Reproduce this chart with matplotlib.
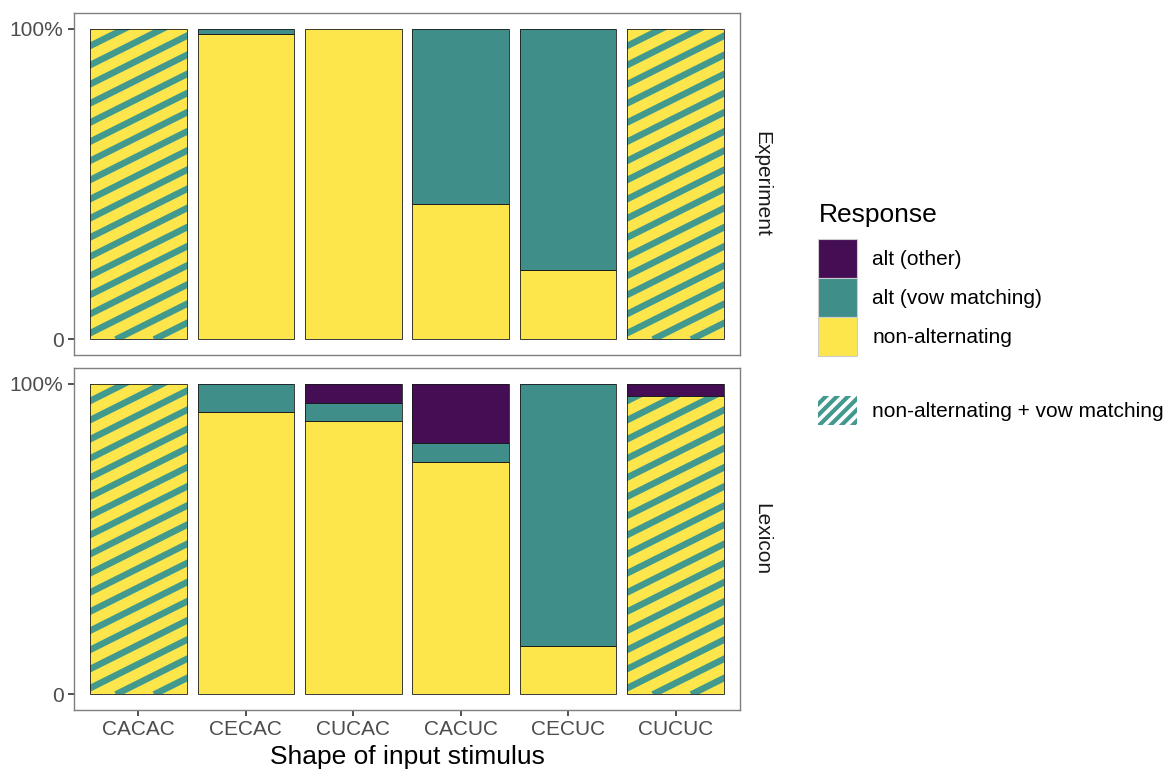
import numpy as np
import matplotlib
matplotlib.use("Agg")
import matplotlib.pyplot as plt
from matplotlib.patches import Patch
from matplotlib.collections import LineCollection
from matplotlib.transforms import IdentityTransform

plt.rcParams['font.family'] = ['Liberation Sans', 'DejaVu Sans']

stimuli = ["CACAC", "CECAC", "CUCAC", "CACUC", "CECUC", "CUCUC"]
hatched = ["CACAC", "CUCUC"]   # non-alternating + vow matching

# shares per facet, stacked bottom -> top
exp_nonalt = [1.0, 0.984, 1.0, 0.435, 0.223, 1.0]
exp_vow = [0.0, 0.016, 0.0, 0.565, 0.777, 0.0]
exp_other = [0.0, 0.0, 0.0, 0.0, 0.0, 0.0]

lex_nonalt = [1.0, 0.91, 0.88, 0.747, 0.155, 0.959]
lex_vow = [0.0, 0.09, 0.058, 0.062, 0.845, 0.0]
lex_other = [0.0, 0.0, 0.062, 0.191, 0.0, 0.041]

facets = ["Experiment", "Lexicon"]
responses = ["alt (other)", "alt (vow matching)", "non-alternating"]
col_other = "#450D54"
col_vow = "#3F8E8A"
col_non = "#FCE64C"
col_stripe = "#429A8F"

W, H = 1169, 772
fig = plt.figure(figsize=(W / 100, H / 100), dpi=100)

def px_axes(x0, y0, x1, y1):
    return fig.add_axes([x0 / W, 1 - y1 / H, (x1 - x0) / W, (y1 - y0) / H])

ax_top = px_axes(74, 13, 740, 355)
ax_bot = px_axes(74, 368, 740, 710)

def stripes(ax, patch):
    # slanted stripes in pixel space, clipped to the bar
    (x0, y0), (x1, y1) = ax.transData.transform(
        [[patch.get_x(), patch.get_y()],
         [patch.get_x() + patch.get_width(), patch.get_y() + patch.get_height()]])
    slope = 0.5
    dx = 38.3
    segs = []
    start = x0 + 25.7 - dx * np.ceil((y1 - y0) / slope / dx + 1)
    for xs0 in np.arange(start, x1 + dx, dx):
        segs.append([(xs0, y0), (xs0 + (y1 - y0) / slope + 60, y1 + 30)])
    lc = LineCollection(segs, colors=col_stripe, linewidths=4.7,
                        transform=IdentityTransform(), zorder=3)
    ax.add_collection(lc)
    lc.set_clip_path(patch)

x = np.arange(len(stimuli))
for ax, name, non, vow, oth in [(ax_top, facets[0], exp_nonalt, exp_vow, exp_other),
                                (ax_bot, facets[1], lex_nonalt, lex_vow, lex_other)]:
    ax.set_xlim(-0.6, len(stimuli) - 0.4)
    ax.set_ylim(-0.05, 1.05)
    non = np.array(non)
    vow = np.array(vow)
    oth = np.array(oth)
    kw = dict(width=0.9, edgecolor="none", linewidth=0, zorder=2)
    b_non = ax.bar(x, non, color=col_non, **kw)
    ax.bar(x, vow, bottom=non, color=col_vow, **kw)
    ax.bar(x, oth, bottom=non + vow, color=col_other, **kw)
    for i, s in enumerate(stimuli):
        if s in hatched:
            stripes(ax, b_non.patches[i])
    ekw = dict(width=0.9, facecolor="none", edgecolor="#1a1a1a", linewidth=0.6, zorder=4)
    ax.bar(x, non, **ekw)
    ax.bar(x[vow > 0], vow[vow > 0], bottom=non[vow > 0], **ekw)
    ax.bar(x[oth > 0], oth[oth > 0], bottom=(non + vow)[oth > 0], **ekw)

    for sp in ax.spines.values():
        sp.set_color("#7f7f7f")
        sp.set_linewidth(1.0)
    ax.set_yticks([0, 1])
    ax.set_yticklabels(["0", "100%"])
    ax.tick_params(axis="both", colors="#333333", labelcolor="#4D4D4D",
                   labelsize=15, length=4, width=1.2)
    ax.set_xticks(x)
    ax.text(1.018, 0.5, name, transform=ax.transAxes, rotation=-90,
            va="center", ha="left", fontsize=15, color="#1a1a1a")

ax_top.set_xticklabels([])
ax_top.tick_params(axis="x", length=0)
ax_bot.set_xticklabels(stimuli)
ax_bot.set_xlabel("Shape of input stimulus", fontsize=19, color="black", labelpad=4)

fig.text(819 / W, 1 - 215 / H, "Response", fontsize=19, ha="left", va="center")
handles = [Patch(facecolor=c, edgecolor="#cccccc", linewidth=0.8)
           for c in [col_other, col_vow, col_non]]
fig.legend(handles, responses, loc="upper left",
           bbox_to_anchor=(818 / W, 1 - 239 / H), frameon=False,
           fontsize=15, handlelength=1.85, handleheight=2.5, labelspacing=0.0,
           handletextpad=0.75, borderpad=0, borderaxespad=0)

plt.rcParams['hatch.linewidth'] = 3.0
hpatch = Patch(facecolor="white", edgecolor=col_stripe, hatch="///", linewidth=0)
fig.legend([hpatch], ["non-alternating + vow matching"], loc="upper left",
           bbox_to_anchor=(818 / W, 1 - 396 / H), frameon=False, fontsize=15,
           handlelength=1.85, handleheight=1.75, handletextpad=0.75,
           borderpad=0, borderaxespad=0)

fig.savefig("out.png", dpi=100)
